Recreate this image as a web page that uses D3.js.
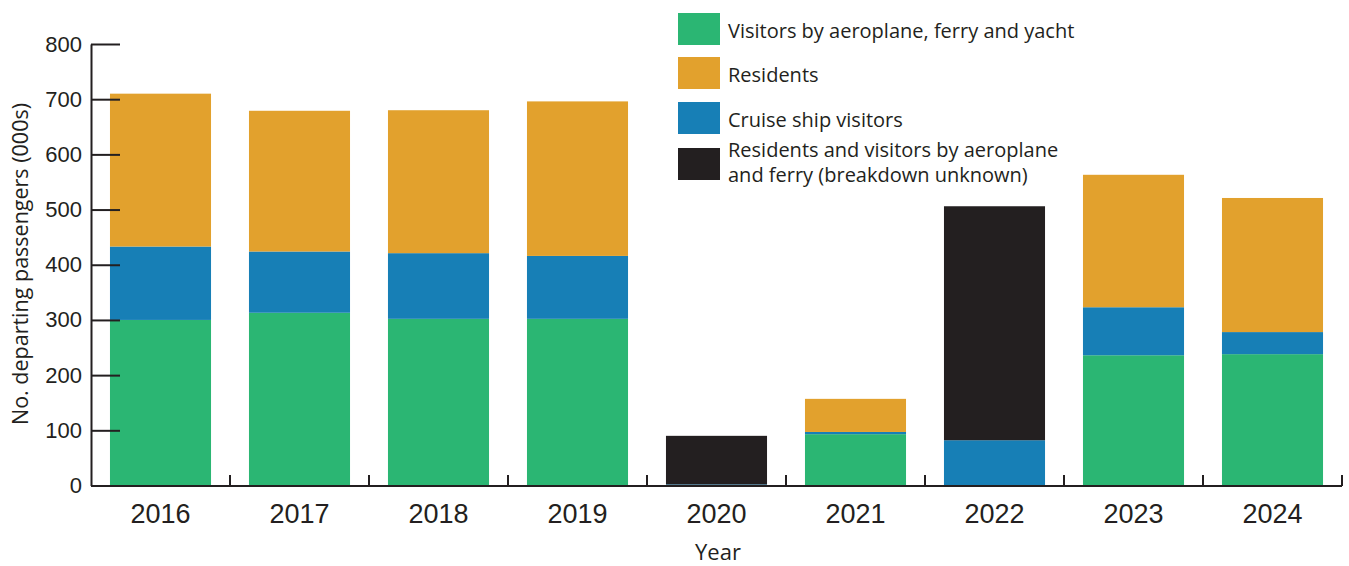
<!DOCTYPE html>
<html>
<head>
<meta charset="utf-8">
<script src="https://cdn.jsdelivr.net/npm/d3@7"></script>
<style>
    body { margin: 0; background: #fff; }
    svg { font-family: "Open Sans", sans-serif; }
    .axis path, .axis line { stroke: #231f20; stroke-width: 2; }
    .axis text { fill: #231f20; }
</style>
</head>
<body>
<script>
const width = 1349;
const height = 566;

const margin = {
    left: 91,
    right: 7,
    top: 44,
    bottom: 80
};

// values in thousands of departing passengers
const years = ["2016", "2017", "2018", "2019", "2020", "2021", "2022", "2023", "2024"];
const visitors = [300, 313, 302, 302, 0, 93, 0, 236, 238];
const cruise = [133, 111, 119, 114, 2, 4, 82, 87, 40];
const residents = [277, 255, 259, 280, 0, 60, 0, 240, 243];
const unknown = [0, 0, 0, 0, 88, 0, 424, 0, 0];
const yTicks = [0, 100, 200, 300, 400, 500, 600, 700, 800];

const seriesKeys = ["visitors", "cruise", "residents", "unknown"];
const colors = {
    visitors: "#2bb673",
    cruise: "#177fb6",
    residents: "#e2a12d",
    unknown: "#231f20"
};

const legendItems = [
    { key: "visitors", lines: ["Visitors by aeroplane, ferry and yacht"] },
    { key: "residents", lines: ["Residents"] },
    { key: "cruise", lines: ["Cruise ship visitors"] },
    { key: "unknown", lines: ["Residents and visitors by aeroplane", "and ferry (breakdown unknown)"] }
];

let data = years.map((y, i) => ({
    year: y,
    visitors: visitors[i],
    cruise: cruise[i],
    residents: residents[i],
    unknown: unknown[i]
}));

let svg = d3.select("body").append("svg")
    .attr("width", width)
    .attr("height", height);

let xScale = d3.scaleBand()
    .domain(years)
    .range([margin.left, width - margin.right])
    .paddingInner(0.273)
    .paddingOuter(0.1365);

let yScale = d3.scaleLinear()
    .domain([0, 800])
    .range([height - margin.bottom - 0.5, margin.top]);

let stacked = d3.stack().keys(seriesKeys)(data);

svg.append("g")
    .selectAll("g")
    .data(stacked)
    .join("g")
    .attr("fill", d => colors[d.key])
    .selectAll("rect")
    .data(d => d)
    .join("rect")
    .attr("x", d => xScale(d.data.year))
    .attr("y", d => yScale(d[1]))
    .attr("height", d => yScale(d[0]) - yScale(d[1]))
    .attr("width", xScale.bandwidth());

// y axis, ticks pointing inward
let yAxis = svg.append("g")
    .attr("class", "axis axis--y")
    .attr("transform", `translate(${margin.left},0)`)
    .call(d3.axisLeft(yScale).tickValues(yTicks).tickSize(-29).tickSizeOuter(0).tickPadding(9));
yAxis.selectAll("text").style("font-size", "22px");

// x axis with labels under bars
let xAxis = svg.append("g")
    .attr("class", "axis axis--x")
    .attr("transform", `translate(0,${yScale(0) + 0.5})`)
    .call(d3.axisBottom(xScale).tickSize(0).tickSizeOuter(0));
xAxis.selectAll("text")
    .attr("y", 37)
    .attr("dy", 0)
    .style("font-size", "27px");
xAxis.select(".domain").attr("d", `M${margin.left},0H${width - margin.right}`);

// boundary ticks between categories
xAxis.selectAll(".sep")
    .data(years)
    .join("line")
    .attr("class", "sep")
    .attr("x1", d => xScale(d) + xScale.bandwidth() + xScale.step() * xScale.paddingInner() / 2)
    .attr("x2", d => xScale(d) + xScale.bandwidth() + xScale.step() * xScale.paddingInner() / 2)
    .attr("y1", 0)
    .attr("y2", -11);

svg.append("text")
    .attr("x", 718)
    .attr("y", 560)
    .attr("text-anchor", "middle")
    .style("font-size", "22px")
    .attr("fill", "#231f20")
    .text("Year");

svg.append("text")
    .attr("transform", "translate(28,264) rotate(-90)")
    .attr("text-anchor", "middle")
    .style("font-size", "21.5px")
    .attr("fill", "#231f20")
    .text("No. departing passengers (000s)");

// legend
const legendTop = [13, 57, 102, 148];
let legend = svg.append("g").attr("class", "legend");
legendItems.forEach((item, i) => {
    let g = legend.append("g").attr("transform", `translate(678,${legendTop[i]})`);
    g.append("rect")
        .attr("width", 42)
        .attr("height", 32)
        .attr("fill", colors[item.key]);
    let n = item.lines.length;
    item.lines.forEach((line, j) => {
        g.append("text")
            .attr("x", 50)
            .attr("y", 25 - (n - 1) * 16 + j * 25)
            .style("font-size", "20px")
            .attr("fill", "#231f20")
            .text(line);
    });
});
</script>
</body>
</html>
